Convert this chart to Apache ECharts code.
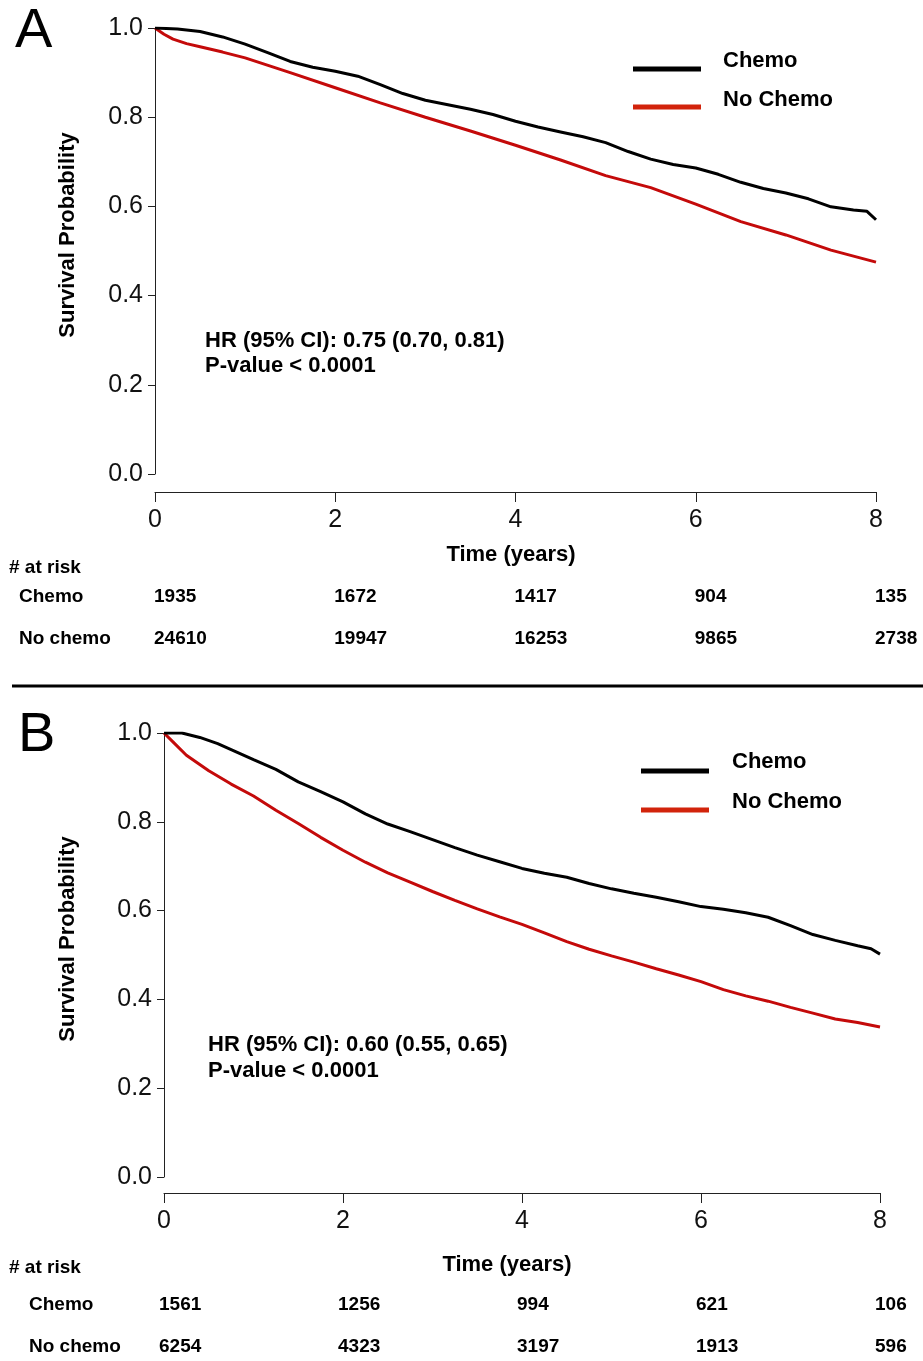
<!DOCTYPE html>
<html>
<head>
<meta charset="utf-8">
<title>Survival by chemo</title>
<script src="https://cdn.jsdelivr.net/npm/echarts@6/dist/echarts.min.js"></script>
<style>
  html, body { margin: 0; padding: 0; background: #fff; }
  #chart { width: 923px; height: 1361px; }
</style>
</head>
<body>
<div id="chart"></div>
<script>
// panel A
const tChemoA = [0, 0.25, 0.5, 0.75, 1, 1.25, 1.5, 1.75, 2, 2.25, 2.5, 2.75, 3, 3.25, 3.5, 3.75, 4, 4.25, 4.5, 4.75, 5, 5.25, 5.5, 5.75, 6, 6.25, 6.5, 6.75, 7, 7.25, 7.5, 7.75, 7.9, 8];
const sChemoA = [1, 0.998, 0.992, 0.98, 0.964, 0.945, 0.925, 0.912, 0.903, 0.892, 0.873, 0.853, 0.838, 0.828, 0.818, 0.806, 0.791, 0.778, 0.767, 0.756, 0.743, 0.723, 0.706, 0.694, 0.686, 0.672, 0.654, 0.64, 0.63, 0.617, 0.599, 0.592, 0.589, 0.57];
const tNoChemoA = [0, 0.1, 0.2, 0.35, 0.5, 0.75, 1, 1.5, 2, 2.5, 3, 3.5, 4, 4.5, 5, 5.5, 6, 6.5, 7, 7.5, 8];
const sNoChemoA = [1, 0.986, 0.975, 0.965, 0.958, 0.946, 0.933, 0.9, 0.866, 0.832, 0.8, 0.769, 0.737, 0.704, 0.669, 0.642, 0.605, 0.566, 0.536, 0.502, 0.475];
const riskChemoA = [1935, 1672, 1417, 904, 135];
const riskNoChemoA = [24610, 19947, 16253, 9865, 2738];

// panel B
const tChemoB = [0, 0.2, 0.4, 0.6, 0.8, 1, 1.25, 1.5, 1.75, 2, 2.25, 2.5, 2.75, 3, 3.25, 3.5, 3.75, 4, 4.25, 4.5, 4.75, 5, 5.25, 5.5, 5.75, 6, 6.25, 6.5, 6.75, 7, 7.25, 7.5, 7.75, 7.9, 8];
const sChemoB = [1, 1, 0.99, 0.976, 0.958, 0.94, 0.918, 0.89, 0.868, 0.845, 0.818, 0.795, 0.778, 0.76, 0.742, 0.725, 0.71, 0.695, 0.684, 0.675, 0.661, 0.649, 0.639, 0.63, 0.62, 0.609, 0.603, 0.595, 0.585, 0.566, 0.546, 0.533, 0.521, 0.514, 0.502];
const tNoChemoB = [0, 0.1, 0.25, 0.5, 0.75, 1, 1.25, 1.5, 1.75, 2, 2.25, 2.5, 2.75, 3, 3.25, 3.5, 3.75, 4, 4.25, 4.5, 4.75, 5, 5.25, 5.5, 5.75, 6, 6.25, 6.5, 6.75, 7, 7.25, 7.5, 7.75, 8];
const sNoChemoB = [1, 0.98, 0.95, 0.915, 0.885, 0.858, 0.826, 0.796, 0.765, 0.736, 0.709, 0.685, 0.664, 0.643, 0.623, 0.604, 0.586, 0.569, 0.55, 0.53, 0.513, 0.498, 0.484, 0.469, 0.455, 0.44, 0.422, 0.408, 0.396, 0.382, 0.369, 0.356, 0.348, 0.338];
const riskChemoB = [1561, 1256, 994, 621, 106];
const riskNoChemoB = [6254, 4323, 3197, 1913, 596];

const riskTimes = [0, 2, 4, 6, 8];
const riskRows = ['Chemo', 'No chemo'];

const FONT = "'Liberation Sans', Arial, Helvetica, sans-serif";
const RED = '#c40a0a';

function zip(t, s) {
  return t.map((x, i) => [x, s[i]]);
}
function riskData(chemo, noChemo) {
  let out = [];
  riskTimes.forEach((t, i) => {
    out.push([t, 0, chemo[i]]);
    out.push([t, 1, noChemo[i]]);
  });
  return out;
}

function plotX(gridIndex, offset, gap, pad) {
  return {
    gridIndex: gridIndex, type: 'value', min: 0, max: 8, interval: 2,
    offset: offset,
    name: 'Time (years)', nameLocation: 'middle', nameGap: gap,
    nameTextStyle: { fontFamily: FONT, fontWeight: 'bold', fontSize: 22, color: '#000', padding: pad },
    axisLine: { show: true, onZero: false, lineStyle: { color: '#222', width: 1 } },
    axisTick: { show: true, length: 10, lineStyle: { color: '#222' } },
    axisLabel: { fontFamily: FONT, fontSize: 25, color: '#111', margin: 16 },
    splitLine: { show: false }
  };
}
function plotY(gridIndex, gap) {
  return {
    gridIndex: gridIndex, type: 'value', min: 0, max: 1, interval: 0.2,
    name: 'Survival Probability', nameLocation: 'middle', nameGap: gap,
    nameTextStyle: { fontFamily: FONT, fontWeight: 'bold', fontSize: 22, color: '#000', padding: [0, 0, 0, 32] },
    axisLine: { show: true, onZero: false, lineStyle: { color: '#222', width: 1 } },
    axisTick: { show: true, length: 7, lineStyle: { color: '#222' } },
    axisLabel: { fontFamily: FONT, fontSize: 25, color: '#111', margin: 12, formatter: v => v.toFixed(1) },
    splitLine: { show: false }
  };
}
function riskX(gridIndex) {
  return { gridIndex: gridIndex, type: 'value', min: 0, max: 8, show: false };
}
function riskY(gridIndex) {
  return { gridIndex: gridIndex, type: 'category', data: riskRows, inverse: true, show: false };
}
function curve(name, data, color, idx) {
  return {
    name: name, type: 'line', data: data, xAxisIndex: idx, yAxisIndex: idx,
    showSymbol: false, symbol: 'none', smooth: false,
    lineStyle: { color: color, width: 3 }, itemStyle: { color: color },
    silent: true
  };
}
function riskSeries(data, idx, dx) {
  return {
    type: 'scatter', data: data, xAxisIndex: idx, yAxisIndex: idx,
    symbolSize: 0, silent: true,
    itemStyle: { opacity: 1, color: '#000' },
    label: {
      show: true, position: 'right', distance: 0, offset: [dx, 0],
      formatter: p => String(p.value[2]),
      fontFamily: FONT, fontWeight: 'bold', fontSize: 19, color: '#000', opacity: 1
    }
  };
}

function txt(x, y, text, size, weight) {
  return {
    type: 'text', x: x, y: y, silent: true,
    style: { text: text, fontFamily: FONT, fontSize: size, fontWeight: weight || 'bold', fill: '#000', verticalAlign: 'middle', align: 'left' }
  };
}
function legendLine(x1, x2, y, color) {
  return { type: 'line', silent: true, shape: { x1: x1, y1: y, x2: x2, y2: y }, style: { stroke: color, lineWidth: 5 } };
}

let chartDom = document.getElementById('chart');
let myChart = echarts.init(chartDom, null, { renderer: 'canvas' });

let option = {
  animation: false,
  backgroundColor: '#fff',
  grid: [
    { left: 155, top: 28, width: 721, height: 446, outerBoundsMode: 'none' },
    { left: 155, top: 576, width: 721, height: 84, outerBoundsMode: 'none' },
    { left: 164, top: 733, width: 716, height: 444, outerBoundsMode: 'none' },
    { left: 164, top: 1284, width: 716, height: 84, outerBoundsMode: 'none' }
  ],
  xAxis: [
    plotX(0, 18, 52, [0, 9, 0, 0]),
    riskX(1),
    plotX(2, 16, 61, [0, 30, 0, 0]),
    riskX(3)
  ],
  yAxis: [
    plotY(0, 76),
    riskY(1),
    plotY(2, 85),
    riskY(3)
  ],
  series: [
    curve('No Chemo', zip(tNoChemoA, sNoChemoA), RED, 0),
    curve('Chemo', zip(tChemoA, sChemoA), '#000', 0),
    riskSeries(riskData(riskChemoA, riskNoChemoA), 1, -1),
    curve('No Chemo', zip(tNoChemoB, sNoChemoB), RED, 2),
    curve('Chemo', zip(tChemoB, sChemoB), '#000', 2),
    riskSeries(riskData(riskChemoB, riskNoChemoB), 3, -5)
  ],
  graphic: [
    txt(15, 32, 'A', 56, 'normal'),
    legendLine(633, 701, 69, '#000'),
    legendLine(633, 701, 107, '#d2230b'),
    txt(723, 61, 'Chemo', 22),
    txt(723, 100, 'No Chemo', 22),
    txt(205, 341, 'HR (95% CI): 0.75 (0.70, 0.81)', 22),
    txt(205, 366, 'P-value < 0.0001', 22),
    txt(9, 568, '# at risk', 19),
    txt(19, 597, riskRows[0], 19),
    txt(19, 639, riskRows[1], 19),
    { type: 'line', silent: true, shape: { x1: 12, y1: 686, x2: 923, y2: 686 }, style: { stroke: '#000', lineWidth: 3 } },

    txt(18, 736, 'B', 56, 'normal'),
    legendLine(641, 709, 771, '#000'),
    legendLine(641, 709, 810, '#d2230b'),
    txt(732, 762, 'Chemo', 22),
    txt(732, 802, 'No Chemo', 22),
    txt(208, 1045, 'HR (95% CI): 0.60 (0.55, 0.65)', 22),
    txt(208, 1071, 'P-value < 0.0001', 22),
    txt(9, 1268, '# at risk', 19),
    txt(29, 1305, riskRows[0], 19),
    txt(29, 1347, riskRows[1], 19)
  ]
};
myChart.setOption(option);
window.addEventListener('resize', () => {
  myChart.resize();
});
</script>
</body>
</html>
